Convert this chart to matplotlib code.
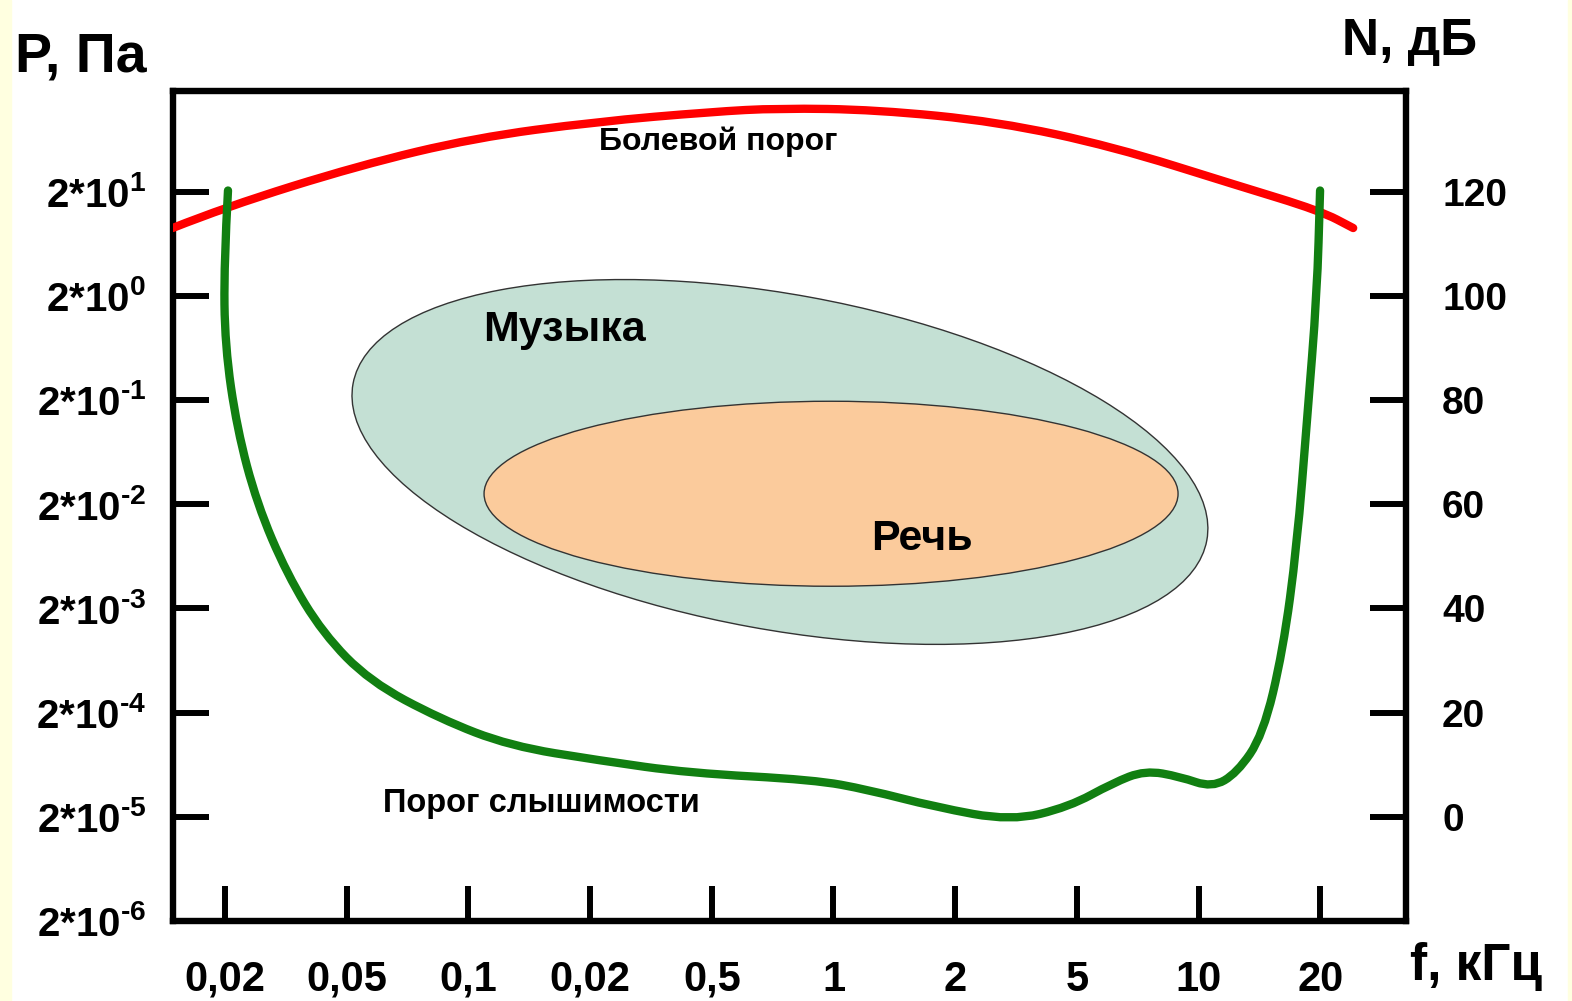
import matplotlib
matplotlib.use('Agg')
import matplotlib.pyplot as plt
from matplotlib.patches import Ellipse, Rectangle, PathPatch
from matplotlib.path import Path
from matplotlib.transforms import ScaledTranslation

plt.rcParams['font.family'] = ['Liberation Sans', 'DejaVu Sans']
plt.rcParams['font.weight'] = 'bold'
plt.rcParams['mathtext.fontset'] = 'custom'
plt.rcParams['mathtext.rm'] = 'Liberation Sans:bold'
plt.rcParams['mathtext.bf'] = 'Liberation Sans:bold'
plt.rcParams['mathtext.it'] = 'Liberation Sans:bold'
plt.rcParams['mathtext.default'] = 'bf'

# ---------------- data ----------------
freq_labels = ['0,02', '0,05', '0,1', '0,02', '0,5', '1', '2', '5', '10', '20']
freq_pos = list(range(len(freq_labels)))

HY = '\u2010'
left_tick_db = [-20, 0, 20, 40, 60, 80, 100, 120]
left_tick_labels = ['2*10$^{' + HY + '6}$', '2*10$^{' + HY + '5}$', '2*10$^{' + HY + '4}$',
                    '2*10$^{' + HY + '3}$', '2*10$^{' + HY + '2}$', '2*10$^{' + HY + '1}$',
                    '2*10$^{0}$', '2*10$^{1}$']
right_tick_db = [0, 20, 40, 60, 80, 100, 120]
right_tick_labels = ['0', '20', '40', '60', '80', '100', '120']

# pain threshold (position on frequency axis, dB)
pain_x = [-0.43, 0.0, 1.1, 2.05, 3.05, 4.0, 4.55, 5.35, 6.35, 7.3, 8.3, 9.0, 9.27]
pain_db = [113.0, 117.0, 125.0, 130.3, 133.4, 135.3, 136.0, 135.7, 133.4, 128.6, 121.3, 116.3, 113.0]

# hearing threshold
hear_x = [0.025, -0.008, 0.0, 0.099, 0.263, 0.509, 0.805, 1.191, 1.767, 2.342, 3.081,
          3.813, 4.840, 5.283, 5.834, 6.459, 6.935, 7.297, 7.560, 7.847, 8.110, 8.315,
          8.529, 8.693, 8.808, 8.891, 8.973, 8.998]
hear_db = [120.2, 106.3, 90.4, 74.5, 60.1, 46.6, 35.2, 26.0, 18.8, 13.6, 10.8,
           8.4, 7.1, 5.2, 1.9, -0.8, 1.9, 6.5, 8.9, 7.7, 5.6, 8.4,
           15.7, 31.9, 52.0, 76.2, 100.4, 120.2]

# regions (centre on freq axis / dB)
music_center = (4.56, 68.1)
speech_center = (4.98, 62.0)


def smooth_path(xs, ys):
    """Quadratic B-spline style path through the read points (rendering only)."""
    pts = list(zip(xs, ys))
    verts = [pts[0]]
    codes = [Path.MOVETO]
    for i in range(1, len(pts) - 1):
        mid = ((pts[i][0] + pts[i + 1][0]) / 2, (pts[i][1] + pts[i + 1][1]) / 2)
        verts += [pts[i], mid]
        codes += [Path.CURVE3, Path.CURVE3]
    verts.append(pts[-1])
    codes.append(Path.LINETO)
    return Path(verts, codes)


# ---------------- figure ----------------
W, H = 1572, 1001
fig = plt.figure(figsize=(W / 100, H / 100), dpi=100)
fig.patch.set_facecolor('white')
fig.add_artist(Rectangle((0, 0), 11 / W, 1, transform=fig.transFigure,
                         color='#FFFFE0', zorder=0))
fig.add_artist(Rectangle((1 - 4 / W, 0), 4 / W, 1, transform=fig.transFigure,
                         color='#FFFFE0', zorder=0))

ax = fig.add_axes([172.5 / W, 1 - 921 / H, (1406 - 172.5) / W, (921 - 91) / H])
ax.set_xlim(-0.431, 9.704)
ax.set_ylim(-20.0, 139.3)
for s in ax.spines.values():
    s.set_linewidth(4.6)
    s.set_color('black')

ax.set_xticks(freq_pos, freq_labels)
ax.tick_params(axis='x', direction='in', length=25, width=4.3, pad=28,
               labelsize=30, color='black')
ax.set_yticks(left_tick_db, left_tick_labels)
ax.tick_params(axis='y', direction='in', length=26, width=4.3, pad=19,
               labelsize=29, color='black')
for lab in ax.get_xticklabels() + ax.get_yticklabels():
    lab.set_fontweight('bold')

ax2 = ax.twinx()
ax2.set_ylim(ax.get_ylim())
ax2.set_yticks(right_tick_db, right_tick_labels)
ax2.tick_params(axis='y', direction='in', length=26, width=4.3, pad=26,
                labelsize=28, color='black')
for lab in ax2.get_yticklabels():
    lab.set_fontweight('bold')
for s in ax2.spines.values():
    s.set_visible(False)

# regions
music = Ellipse((0, 0), 8.68, 3.35, angle=-10.4,
                transform=fig.dpi_scale_trans + ScaledTranslation(*music_center, ax.transData),
                facecolor='#C4E0D4', edgecolor='#333333', linewidth=1.0, zorder=2)
speech = Ellipse((0, 0), 6.94, 1.85, angle=0,
                 transform=fig.dpi_scale_trans + ScaledTranslation(*speech_center, ax.transData),
                 facecolor='#FBCB9C', edgecolor='#333333', linewidth=1.0, zorder=3)
ax.add_patch(music)
ax.add_patch(speech)

# curves
ax.add_patch(PathPatch(smooth_path(pain_x, pain_db), facecolor='none', edgecolor='#FF0000',
                       linewidth=6.0, capstyle='round', joinstyle='round', zorder=5))
ax.add_patch(PathPatch(smooth_path(hear_x, hear_db), facecolor='none', edgecolor='#117F11',
                       linewidth=6.0, capstyle='round', joinstyle='round', zorder=5))

# labels inside
ax.text(4.05, 129.5, 'Болевой порог', fontsize=23, fontweight='bold',
        ha='center', va='center', zorder=6)
ax.text(2.79, 93.5, 'Музыка', fontsize=31, fontweight='bold',
        ha='center', va='center', zorder=6)
ax.text(5.73, 53.4, 'Речь', fontsize=31, fontweight='bold',
        ha='center', va='center', zorder=6)
ax.text(2.60, 2.6, 'Порог слышимости', fontsize=23.5, fontweight='bold',
        ha='center', va='center', zorder=6)

# axis titles
fig.text(15 / W, 1 - 71 / H, 'P, Па', fontsize=40, fontweight='bold',
         ha='left', va='baseline')
fig.text(1342 / W, 1 - 55 / H, 'N, дБ', fontsize=37, fontweight='bold',
         ha='left', va='baseline')
fig.text(1410 / W, 1 - 980 / H, 'f, кГц', fontsize=37, fontweight='bold',
         ha='left', va='baseline')

fig.savefig('out.png', dpi=100, facecolor=fig.get_facecolor())
